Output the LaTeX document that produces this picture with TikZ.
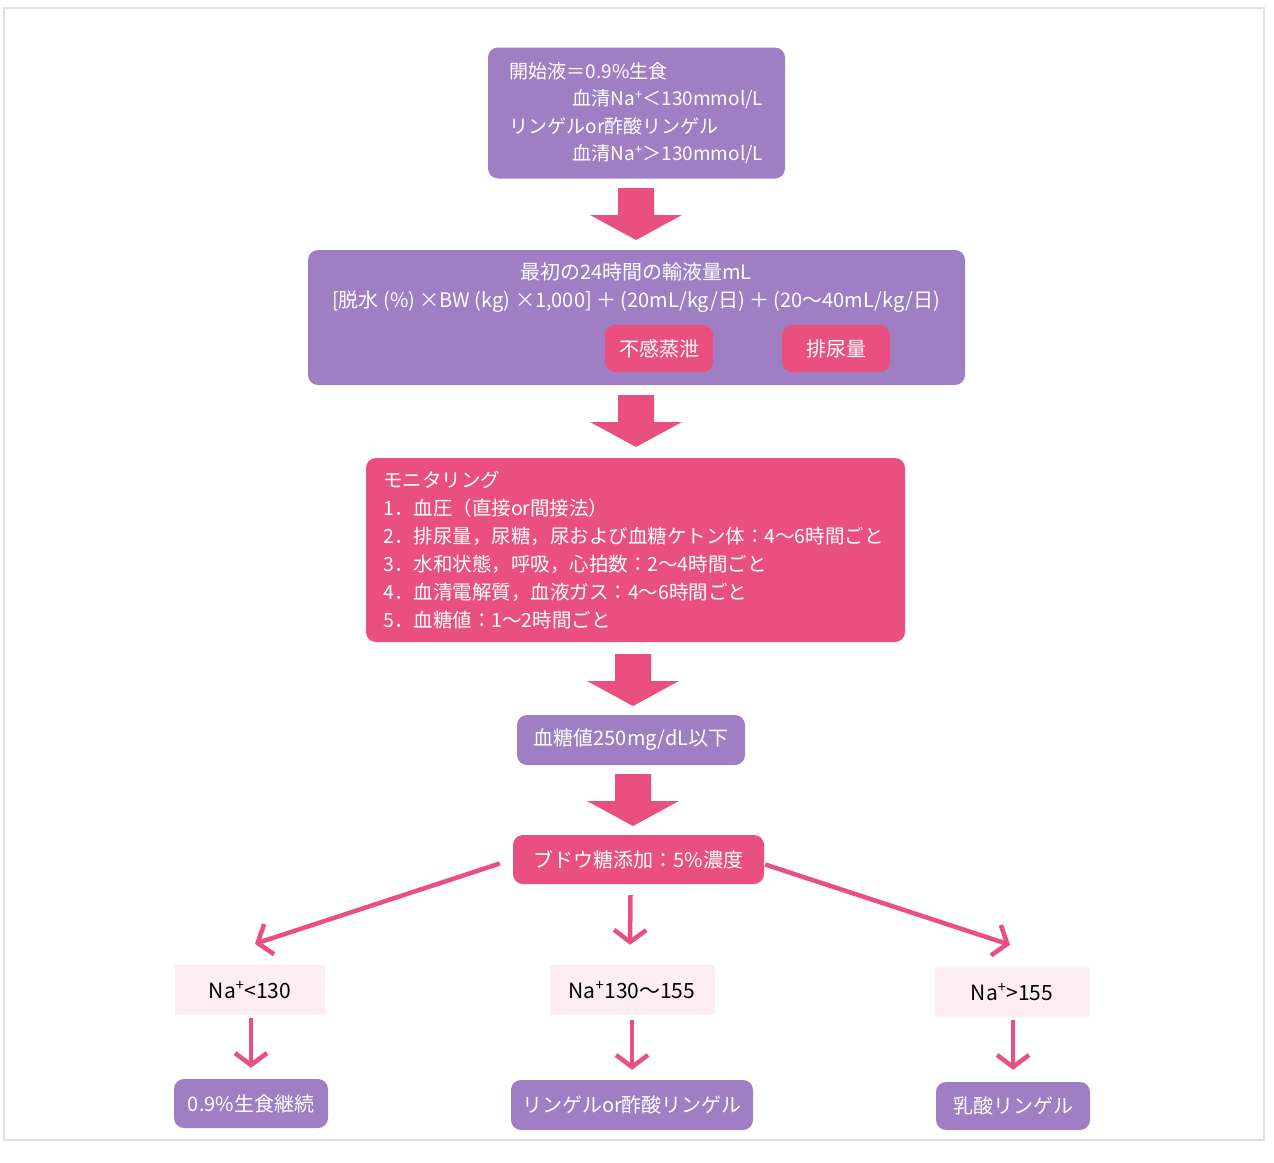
\documentclass[tikz,border=0pt]{standalone}
\usepackage{fontspec}
\setmainfont{Noto Sans CJK JP}
\usetikzlibrary{calc,arrows.meta}
\definecolor{pu}{RGB}{160,126,196}
\definecolor{pk}{RGB}{233,80,128}
\definecolor{lbl}{RGB}{252,238,243}
\begin{document}
\begin{tikzpicture}[x=1pt,y=-1pt,
  box/.style={rounded corners=10pt, text=white, inner sep=0pt, font=\fontsize{20}{28}\selectfont},
  pbox/.style={box, fill=pu},
  kbox/.style={box, fill=pk},
  lblbox/.style={fill=lbl, text=black, inner sep=0pt, font=\fontsize{21}{24}\selectfont},
  thinarr/.style={draw=pk, line width=4.5pt, -{Straight Barb[length=12pt,width=32pt]}},
  blockarrow/.pic={\fill[pk] (-18,0) -- (18,0) -- (18,27) -- (46,27) -- (0,52) -- (-46,27) -- (-18,27) -- cycle;}
]
\useasboundingbox (0,0) rectangle (1274,1162);
\draw[black!12, line width=1.5pt] (4,8) rectangle (1264,1140);

% top box
\node[pbox, minimum width=297pt, minimum height=131pt, align=left, font=\fontsize{19}{27.5}\selectfont] (top) at (636.5,113)
 {開始液＝0.9\%生食\\
  \hspace*{3.3em}血清Na\textsuperscript{+}＜130mmol/L\\
  リンゲルor酢酸リンゲル\\
  \hspace*{3.3em}血清Na\textsuperscript{+}＞130mmol/L};

% box 2
\node[pbox, minimum width=657pt, minimum height=135pt] (vol) at (636.5,317.5) {};
\node[box, align=center] (voltxt) at (636,288)
 {最初の24時間の輸液量mL\\
  {[}脱水 (\%) ×BW (kg) ×1,000{]} ＋ (20mL/kg/日) ＋ (20〜40mL/kg/日)};
\node[kbox, minimum width=108pt, minimum height=47pt] (fk) at (659,348.5) {不感蒸泄};
\node[kbox, minimum width=108pt, minimum height=47pt] (hn) at (836,348.5) {排尿量};

% box 3
\node[kbox, minimum width=539pt, minimum height=184pt] (mon) at (635.5,550) {};
\node[box, align=left, anchor=west, font=\fontsize{19.5}{28}\selectfont] (montxt) at (383,550)
 {モニタリング\\
  1．血圧（直接or間接法）\\
  2．排尿量，尿糖，尿および血糖ケトン体：4〜6時間ごと\\
  3．水和状態，呼吸，心拍数：2〜4時間ごと\\
  4．血清電解質，血液ガス：4〜6時間ごと\\
  5．血糖値：1〜2時間ごと};

% box 4, 5
\node[pbox, minimum width=228pt, minimum height=50pt] (bg) at (631,740) {血糖値250mg/dL以下};
\node[kbox, minimum width=251pt, minimum height=49pt] (glu) at (638.5,859.5) {ブドウ糖添加：5\%濃度};

% block arrows
\pic at (636,188) {blockarrow};
\pic at (636,395) {blockarrow};
\pic at (633,654) {blockarrow};
\pic at (633,774) {blockarrow};

% labels
\node[lblbox, minimum width=150pt, minimum height=50pt] (l1) at (250,990) {Na\textsuperscript{+}<130};
\node[lblbox, minimum width=165pt, minimum height=50pt] (l2) at (632,990) {Na\textsuperscript{+}130〜155};
\node[lblbox, minimum width=155pt, minimum height=50pt] (l3) at (1012,992) {Na\textsuperscript{+}>155};

% bottom boxes
\node[pbox, minimum width=154pt, minimum height=49pt] (r1) at (251,1103.5) {0.9\%生食継続};
\node[pbox, minimum width=242pt, minimum height=50pt] (r2) at (632,1105) {リンゲルor酢酸リンゲル};
\node[pbox, minimum width=154pt, minimum height=48pt] (r3) at (1013,1106) {乳酸リンゲル};

% thin arrows
\draw[thinarr] ($(glu.west)+(-13,4)$) -- ($(l1.north)+(5,-21)$);
\draw[thinarr] ($(glu.south)+(-8,11)$) -- ($(l2.north)+(-2,-20)$);
\draw[thinarr] ($(glu.east)+(1,5)$) -- ($(l3.north)+(-2,-22)$);
\draw[thinarr] ($(l1.south)+(1,3)$) -- ($(r1.north)+(0,-11)$);
\draw[thinarr] ($(l2.south)+(0,5)$) -- ($(r2.north)+(0,-10)$);
\draw[thinarr] ($(l3.south)+(1,3)$) -- ($(r3.north)+(0,-12)$);
\end{tikzpicture}
\end{document}
